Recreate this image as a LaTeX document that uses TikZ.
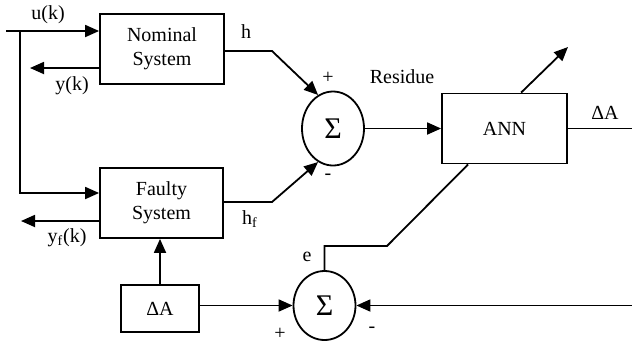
\documentclass[tikz,border=0pt]{standalone}
\usepackage{fontspec}
\setmainfont{Liberation Serif}
\usetikzlibrary{shapes.geometric,arrows.meta}
\tikzset{
  blk/.style={draw, line width=0.9pt, align=center, inner sep=0pt},
  sumnode/.style={draw, ellipse, line width=0.9pt, inner sep=0pt, minimum width=31pt, minimum height=37pt, font=\fontsize{15}{18}\selectfont},
  sig/.style={line width=0.9pt, -{Triangle[length=7pt,width=6pt]}},
  wire/.style={line width=0.9pt}
}
\begin{document}
\begin{tikzpicture}[x=0.5pt,y=-0.5pt]
  \useasboundingbox (0,0) rectangle (632,344);
  % Blocks
  \node[blk, minimum width=62pt, minimum height=35pt] (nominal) at (162,49) {Nominal\\System};
  \node[blk, minimum width=61.5pt, minimum height=35pt] (faulty) at (161.5,203) {Faulty\\System};
  \node[blk, minimum width=39pt, minimum height=23.5pt] (dA) at (160,308.5) {ΔA};
  \node[blk, minimum width=62.5pt, minimum height=35pt] (ann) at (504.5,128.5) {ANN};
  \node[sumnode] (sum1) at (333,128.5) {Σ};
  \node[sumnode, minimum height=34.5pt] (sum2) at (324.5,305.5) {Σ};
  % Free ends and corners
  \coordinate (uin) at (6,31);
  \coordinate (split) at (20,31);
  \coordinate (fin) at (20,193);
  \coordinate (yout) at (30,68);
  \coordinate (yfout) at (21,221);
  \coordinate (hc) at (272,51);
  \coordinate (hfc) at (272,202);
  \coordinate (dAout) at (632,128.5);
  \coordinate (fb) at (632,305.5);
  \coordinate (tr) at (568,47);
  \coordinate (ec) at (387,246);
  % Signals
  \draw[sig] (uin) -- (uin -| nominal.west);
  \draw[sig] (split) -- (fin) -- (fin -| faulty.west);
  \draw[sig] (nominal.west |- yout) -- (yout);
  \draw[sig] (faulty.west |- yfout) -- (yfout);
  \draw[sig] (nominal.east |- hc) -- (hc) -- (sum1.114);
  \draw[sig] (faulty.east |- hfc) -- (hfc) -- (sum1.246);
  \draw[sig] (sum1.east) -- (ann.west);
  \draw[wire] (ann.east) -- (dAout);
  \draw[sig] ([xshift=40pt]ann.north west) -- (tr);
  \draw[wire] ([xshift=13.5pt]ann.south west) -- (ec) -- (ec -| sum2.north) -- (sum2.north);
  \draw[sig] (dA.north) -- (dA.north |- faulty.south);
  \draw[sig] (dA.east |- sum2.west) -- (sum2.west);
  \draw[sig] (fb) -- (sum2.east);
  % Labels
  \node (lu) at (48,15) {u(k)};
  \node (ly) at (72,86) {y(k)};
  \node (lh) at (246,32) {h};
  \node (lplus1) at (328,78) {+};
  \node (lminus1) at (328,177) {-};
  \node (lres) at (402,77) {Residue};
  \node (lout) at (605,113) {ΔA};
  \node (lyf) at (67,238) {y\textsubscript{f}(k)};
  \node (lhf) at (250,219) {h\textsubscript{f}};
  \node (le) at (307,257) {e};
  \node (lplus2) at (280,334) {+};
  \node (lminus2) at (372,330) {-};
\end{tikzpicture}
\end{document}
